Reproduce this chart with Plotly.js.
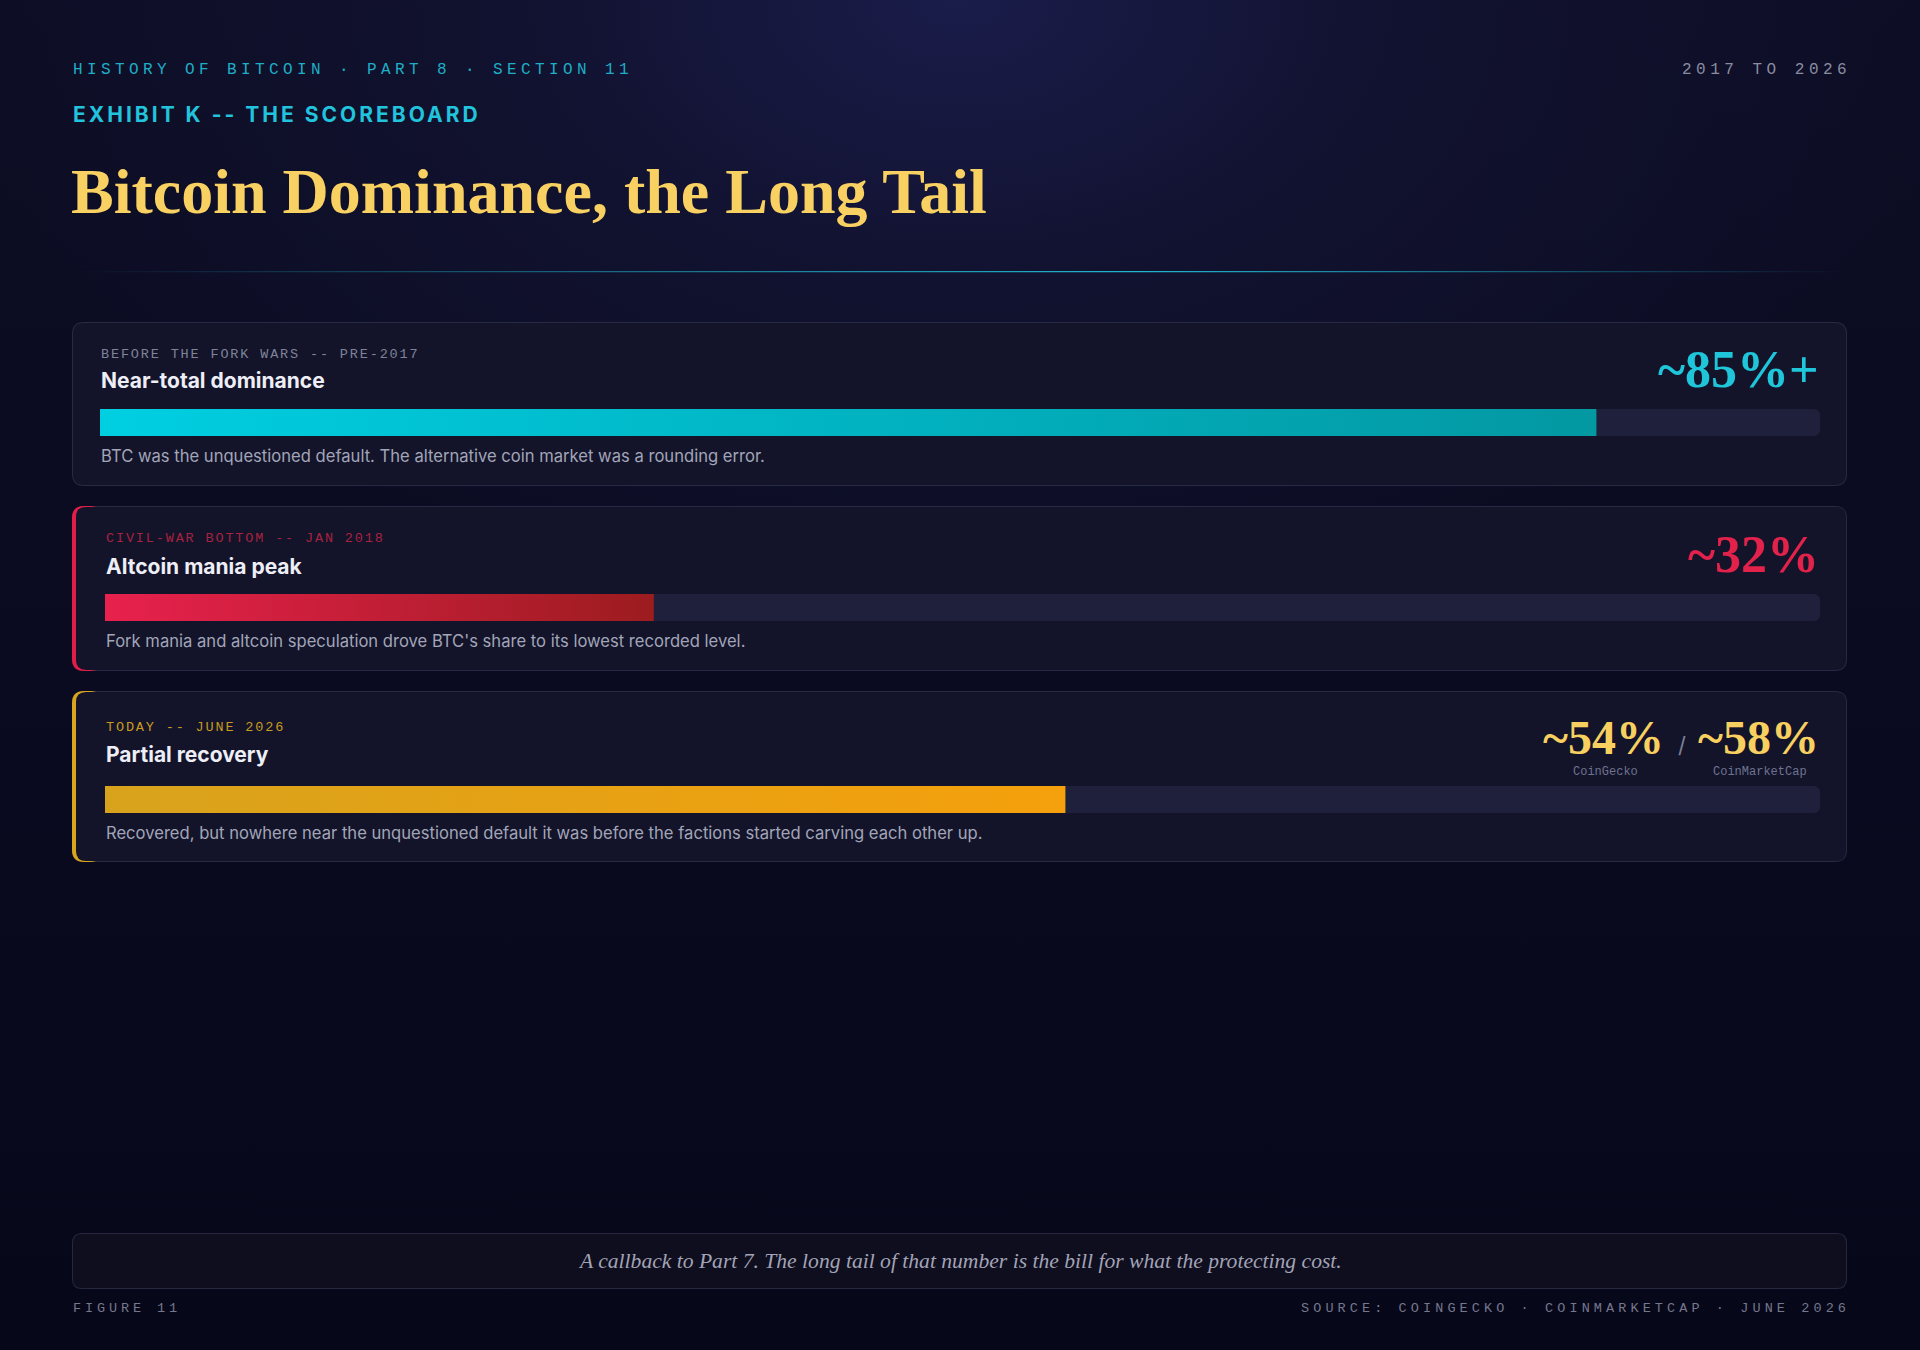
<!DOCTYPE html>
<html>
<head>
<meta charset="utf-8">
<script src="https://cdn.plot.ly/plotly-3.0.1.min.js"></script>
<style>
html,body{margin:0;padding:0;width:1920px;height:1350px;overflow:hidden;
background:
 radial-gradient(ellipse 1000px 650px at 50% 0%, #1a1c4a 0%, #11122f 45%, rgba(12,12,32,0) 100%),
 linear-gradient(180deg,#0d0d25 0%, #0a0b20 50%, #07071a 100%);}
#chart{width:1920px;height:1350px;}
</style>
</head>
<body>
<div id="chart"></div>
<script>
// ---------- data ----------
const headerText   = 'HISTORY OF BITCOIN · PART 8 · SECTION 11';
const rangeText    = '2017 TO 2026';
const exhibitText  = 'EXHIBIT K -- THE SCOREBOARD';
const titleText    = 'Bitcoin Dominance, the Long Tail';

const eraLabels = ['BEFORE THE FORK WARS -- PRE-2017', 'CIVIL-WAR BOTTOM -- JAN 2018', 'TODAY -- JUNE 2026'];
const eraTitles = ['Near-total dominance', 'Altcoin mania peak', 'Partial recovery'];
const eraNotes  = [
  'BTC was the unquestioned default. The alternative coin market was a rounding error.',
  "Fork mania and altcoin speculation drove BTC's share to its lowest recorded level.",
  'Recovered, but nowhere near the unquestioned default it was before the factions started carving each other up.'
];
const barValues   = [87, 32, 56];      // bar length, % of market cap
const trackMax    = [100, 100, 100];
const bigLabels   = ['~85%+', '~32%'];
const todayLabels = ['~54%', '~58%'];
const todaySources = ['CoinGecko', 'CoinMarketCap'];

const footnoteText = 'A callback to Part 7. The long tail of that number is the bill for what the protecting cost.';
const figureText   = 'FIGURE 11';
const sourceText   = 'SOURCE: COINGECKO · COINMARKETCAP · JUNE 2026';

// ---------- styling ----------
const W = 1920, H = 1350;
const MONO = 'Liberation Mono, DejaVu Sans Mono, monospace';
const SANS = 'Inter, Roboto, Noto Sans, sans-serif';
const SERIF = 'Liberation Serif, DejaVu Serif, serif';

const barColors = [
  ['#00cfe2', '#0398a2'],
  ['#e8214d', '#9c1c1f'],
  ['#d8a31c', '#f5a00c']
];
const accentColors = [null, '#e11d48', '#d9a51e'];
const labelColors  = ['#7f8399', '#a8223f', '#c99a1e'];
const bigColors    = ['#1fc6da', '#e3224b', '#f8d060'];

// card geometry (pixels)
const cards = [
  {top: 322, bottom: 486, content: 100, bar: [409, 436], label: 354.5, title: 381, note: 456, big: 369.5},
  {top: 506, bottom: 671, content: 105, bar: [594, 621], label: 539, title: 566.5, note: 641, big: 554.5},
  {top: 691, bottom: 862, content: 105, bar: [786, 813], label: 727.5, title: 754.5, note: 833, big: 737}
];
const CARD_L = 72, CARD_R = 1847, TRACK_R = 1820;

const X = v => (v / W);
const Y = v => (1 - v / H);
function rr(x0, y0, x1, y1, r) {
  const f = v => (v / W).toFixed(6), g = v => (1 - v / H).toFixed(6);
  return `M${f(x0 + r)},${g(y0)} L${f(x1 - r)},${g(y0)} Q${f(x1)},${g(y0)} ${f(x1)},${g(y0 + r)} ` +
         `L${f(x1)},${g(y1 - r)} Q${f(x1)},${g(y1)} ${f(x1 - r)},${g(y1)} L${f(x0 + r)},${g(y1)} ` +
         `Q${f(x0)},${g(y1)} ${f(x0)},${g(y1 - r)} L${f(x0)},${g(y0 + r)} Q${f(x0)},${g(y0)} ${f(x0 + r)},${g(y0)} Z`;
}
function pathShape(path, color) {
  return {type: 'path', xref: 'paper', yref: 'paper', path: path, fillcolor: color, line: {width: 0}, layer: 'below'};
}
function ls(t, s) { return `<span style="letter-spacing:${s}px">${t}</span>`; }
function ann(text, x, y, font, xanchor) {
  return {text: text, x: X(x), y: Y(y), xref: 'paper', yref: 'paper', showarrow: false, borderpad: 0,
          xanchor: xanchor || 'left', yanchor: 'middle', align: xanchor || 'left', font: font};
}

// ---------- shapes ----------
const shapes = [];
cards.forEach((c, i) => {
  shapes.push(pathShape(rr(CARD_L, c.top, CARD_R, c.bottom, 12), '#282a45'));
  if (accentColors[i]) {
    shapes.push(pathShape(rr(CARD_L, c.top, CARD_L + 30, c.bottom, 12), accentColors[i]));
    shapes.push(pathShape(rr(CARD_L + 4, c.top + 1, CARD_R - 1, c.bottom - 1, 10), '#13142a'));
  } else {
    shapes.push(pathShape(rr(CARD_L + 1, c.top + 1, CARD_R - 1, c.bottom - 1, 11), '#13142a'));
  }
});
shapes.push(pathShape(rr(CARD_L, 1233, CARD_R, 1289, 10), '#27283f'));
shapes.push(pathShape(rr(CARD_L + 1, 1234, CARD_R - 1, 1288, 9), '#0e0e1e'));

// ---------- traces ----------
const traces = [];
const layoutAxes = {};
cards.forEach((c, i) => {
  const n = i === 0 ? '' : String(i + 1);
  layoutAxes['xaxis' + n] = {domain: [X(c.content), X(TRACK_R)], range: [0, 100], visible: false, fixedrange: true};
  layoutAxes['yaxis' + n] = {domain: [Y(c.bar[1]), Y(c.bar[0])], range: [0, 1], visible: false, fixedrange: true};
  traces.push({type: 'bar', orientation: 'h', x: [trackMax[i]], y: [0.5], width: [1],
    marker: {color: '#1f203b', cornerradius: 6, line: {width: 0}},
    xaxis: 'x' + n, yaxis: 'y' + n, hoverinfo: 'skip', showlegend: false});
  traces.push({type: 'scatter', mode: 'lines', x: [0, barValues[i]], y: [1, 1], fill: 'tozeroy',
    line: {width: 0, color: barColors[i][0]},
    fillgradient: {type: 'horizontal', colorscale: [[0, barColors[i][0]], [1, barColors[i][1]]]},
    xaxis: 'x' + n, yaxis: 'y' + n, hoverinfo: 'skip', showlegend: false});
});
// divider
layoutAxes.xaxis4 = {domain: [X(72), X(1848)], range: [0, 1], visible: false, fixedrange: true};
layoutAxes.yaxis4 = {domain: [Y(272.5), Y(271)], range: [0, 1], visible: false, fixedrange: true};
traces.push({type: 'scatter', mode: 'lines', x: [0, 1], y: [1, 1], fill: 'tozeroy',
  line: {width: 0, color: 'rgba(0,0,0,0)'},
  fillgradient: {type: 'horizontal', colorscale: [[0, 'rgba(34,190,215,0)'], [0.2, 'rgba(34,190,215,0.35)'], [0.6, 'rgba(34,190,215,0.95)'], [1, 'rgba(34,190,215,0)']]},
  xaxis: 'x4', yaxis: 'y4', hoverinfo: 'skip', showlegend: false});

// ---------- annotations ----------
const anns = [];
anns.push(ann(ls(headerText, 4.4), 72, 70, {family: MONO, size: 16, color: '#1eaec6'}));
anns.push(ann(ls(rangeText, 4.5), 1852, 70, {family: MONO, size: 16, color: '#8a8da0'}, 'right'));
anns.push(ann(ls(exhibitText, 3.0), 72, 115, {family: SANS, size: 21, color: '#22c3dc', weight: 700}));
anns.push(ann(titleText, 70, 191.5, {family: SERIF, size: 64, color: '#f9d162', weight: 700}));

cards.forEach((c, i) => {
  anns.push(ann(ls(eraLabels[i], 1.85), c.content, c.label, {family: MONO, size: 13.5, color: labelColors[i]}));
  anns.push(ann(eraTitles[i], c.content, c.title, {family: SANS, size: 21, color: '#eeeef6', weight: 700}));
  anns.push(ann(eraNotes[i], c.content, c.note, {family: SANS, size: 16.6, color: '#a2a5b8'}));
  if (i < 2) {
    anns.push(ann(bigLabels[i], 1820, c.big, {family: SERIF, size: 52, color: bigColors[i], weight: 700}, 'right'));
  }
});
const c3 = cards[2];
anns.push(ann(todayLabels[1], 1820, c3.big, {family: SERIF, size: 48, color: bigColors[2], weight: 700}, 'right'));
anns.push(ann('/', 1682, 745, {family: SANS, size: 22, color: '#7d8096'}, 'center'));
anns.push(ann(todayLabels[0], 1665, c3.big, {family: SERIF, size: 48, color: bigColors[2], weight: 700}, 'right'));
anns.push(ann(todaySources[0], 1605, 772, {family: MONO, size: 12, color: '#6f7390'}, 'center'));
anns.push(ann(todaySources[1], 1760, 772, {family: MONO, size: 12, color: '#6f7390'}, 'center'));

anns.push(ann(footnoteText, 960, 1261, {family: SERIF, size: 21.6, color: '#a3a3b6', style: 'italic'}, 'center'));
anns.push(ann(ls(figureText, 3.9), 72, 1308, {family: MONO, size: 13.5, color: '#75788c'}));
anns.push(ann(ls(sourceText, 4.1), 1851, 1308, {family: MONO, size: 13.5, color: '#75788c'}, 'right'));

const layout = Object.assign({
  width: W, height: H,
  margin: {l: 0, r: 0, t: 0, b: 0, pad: 0},
  paper_bgcolor: 'rgba(0,0,0,0)', plot_bgcolor: 'rgba(0,0,0,0)',
  showlegend: false, hovermode: false, barmode: 'overlay',
  shapes: shapes, annotations: anns
}, layoutAxes);

Plotly.newPlot('chart', traces, layout, {staticPlot: true, displayModeBar: false});
</script>
</body>
</html>
